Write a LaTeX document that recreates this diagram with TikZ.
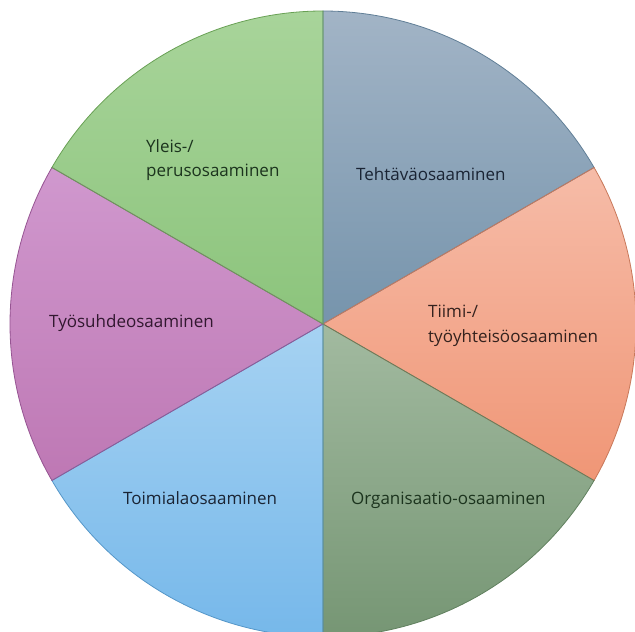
\documentclass[tikz,border=0pt]{standalone}
\usepackage{fontspec}
\setmainfont{Open Sans}
\definecolor{yleisT}{RGB}{168,212,154}
\definecolor{yleisB}{RGB}{140,196,124}
\definecolor{yleisL}{RGB}{104,160,84}
\definecolor{tehtT}{RGB}{162,180,198}
\definecolor{tehtB}{RGB}{118,148,172}
\definecolor{tehtL}{RGB}{96,126,150}
\definecolor{tiimiT}{RGB}{246,188,168}
\definecolor{tiimiB}{RGB}{240,150,118}
\definecolor{tiimiL}{RGB}{200,120,90}
\definecolor{orgT}{RGB}{162,186,160}
\definecolor{orgB}{RGB}{118,150,116}
\definecolor{orgL}{RGB}{96,128,94}
\definecolor{toimT}{RGB}{166,210,242}
\definecolor{toimB}{RGB}{118,184,234}
\definecolor{toimL}{RGB}{84,150,200}
\definecolor{tyoT}{RGB}{208,152,206}
\definecolor{tyoB}{RGB}{190,120,180}
\definecolor{tyoL}{RGB}{150,84,146}
\definecolor{txtG}{RGB}{28,52,30}
\definecolor{txtB}{RGB}{26,36,52}
\definecolor{txtR}{RGB}{52,34,30}
\definecolor{txtP}{RGB}{50,24,48}
\tikzset{
  lbl/.style={anchor=west, align=left, inner sep=0pt, font=\fontsize{17}{24.5}\selectfont},
  sect/.style={line width=0.8pt}
}
\begin{document}
\begin{tikzpicture}[x=1pt,y=1pt]
\useasboundingbox (0,0) rectangle (635,632);
\coordinate (c) at (323,308);
\def\R{313}
% sectors
\shade[top color=tehtT, bottom color=tehtB] (c) -- ++(30:\R) arc[start angle=30, end angle=90, radius=\R] -- cycle;
\shade[top color=yleisT, bottom color=yleisB] (c) -- ++(90:\R) arc[start angle=90, end angle=150, radius=\R] -- cycle;
\shade[top color=tyoT, bottom color=tyoB] (c) -- ++(150:\R) arc[start angle=150, end angle=210, radius=\R] -- cycle;
\shade[top color=toimT, bottom color=toimB] (c) -- ++(210:\R) arc[start angle=210, end angle=270, radius=\R] -- cycle;
\shade[top color=orgT, bottom color=orgB] (c) -- ++(270:\R) arc[start angle=270, end angle=330, radius=\R] -- cycle;
\shade[top color=tiimiT, bottom color=tiimiB] (c) -- ++(-30:\R) arc[start angle=-30, end angle=30, radius=\R] -- cycle;
% borders
\draw[sect, draw=tehtL] (c) -- ++(30:\R) arc[start angle=30, end angle=90, radius=\R] -- cycle;
\draw[sect, draw=tiimiL] (c) -- ++(-30:\R) arc[start angle=-30, end angle=30, radius=\R] -- cycle;
\draw[sect, draw=orgL] (c) -- ++(270:\R) arc[start angle=270, end angle=330, radius=\R] -- cycle;
\draw[sect, draw=toimL] (c) -- ++(210:\R) arc[start angle=210, end angle=270, radius=\R] -- cycle;
\draw[sect, draw=tyoL] (c) -- ++(150:\R) arc[start angle=150, end angle=210, radius=\R] -- cycle;
\draw[sect, draw=yleisL] (c) -- ++(90:\R) arc[start angle=90, end angle=150, radius=\R] -- cycle;
% labels
\node[lbl, text=txtG] (yleis) at (146,472) {Yleis-/\\perusosaaminen};
\node[lbl, text=txtB] (teht) at (356,458) {Tehtäväosaaminen};
\node[lbl, text=txtR] (tiimi) at (428,306) {Tiimi-/\\työyhteisöosaaminen};
\node[lbl, text=txtP] (tyo) at (49,309) {Työsuhdeosaaminen};
\node[lbl, text=txtB] (toim) at (123,134) {Toimialaosaaminen};
\node[lbl, text=txtG] (org) at (351,132) {Organisaatio-osaaminen};
\end{tikzpicture}
\end{document}
